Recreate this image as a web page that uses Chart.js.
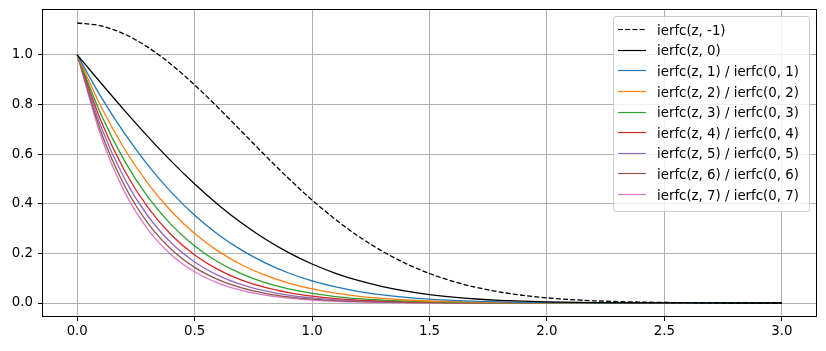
<!DOCTYPE html>
<html>
<head>
<meta charset="utf-8">
<script src="https://cdn.jsdelivr.net/npm/chart.js@4/dist/chart.umd.min.js"></script>
<style>
  body { margin: 0; background: #fff; }
  #wrap { position: relative; width: 826px; height: 351px; }
  #legend {
    position: absolute; left: 613px; top: 16px; width: 195px; height: 191px;
    border: 1px solid #cccccc; border-radius: 3px;
    background: rgba(255,255,255,0.8);
    padding-top: 3px; box-sizing: content-box;
    font-family: "DejaVu Sans", sans-serif; font-size: 13.33px; color: #000;
  }
  .row { height: 20.6px; display: flex; align-items: center; white-space: nowrap; }
  .row svg { margin-left: 4px; margin-right: 11px; flex: none; }
</style>
</head>
<body>
<div id="wrap">
  <canvas id="chart" width="826" height="351"></canvas>
  <div id="legend"></div>
</div>
<script>
const zValues = [0, 0.1, 0.2, 0.3, 0.4, 0.5, 0.6, 0.7, 0.8, 0.9, 1.0, 1.1, 1.2, 1.3, 1.4, 1.5, 1.6, 1.7, 1.8, 1.9, 2.0, 2.2, 2.4, 2.6, 2.8, 3.0];

const ierfcM1 = [1.1284, 1.1172, 1.0841, 1.0313, 0.9615, 0.8788, 0.7872, 0.6913, 0.5950, 0.5020, 0.4151, 0.3365, 0.2674, 0.2082, 0.1589, 0.1189, 0.0872, 0.0627, 0.0442, 0.0305, 0.0207, 0.0089, 0.0036, 0.0013, 0.0004, 0.0001];
const ierfc0 = [1, 0.8875, 0.7773, 0.6714, 0.5716, 0.4795, 0.3961, 0.3222, 0.2579, 0.2031, 0.1573, 0.1198, 0.0897, 0.0660, 0.0477, 0.0339, 0.0237, 0.0162, 0.0109, 0.0072, 0.0047, 0.0019, 0.0007, 0.0002, 0.0001, 0];
const ierfc1 = [1, 0.8327, 0.6853, 0.5569, 0.4469, 0.3539, 0.2764, 0.2129, 0.1616, 0.1209, 0.0891, 0.0646, 0.0462, 0.0325, 0.0225, 0.0153, 0.0102, 0.0067, 0.0044, 0.0028, 0.0017, 0.0006, 0.0002, 0.0001, 0, 0];
const ierfc2 = [1, 0.7936, 0.6227, 0.4828, 0.3699, 0.2799, 0.2090, 0.1541, 0.1120, 0.0803, 0.0568, 0.0396, 0.0271, 0.0184, 0.0122, 0.0080, 0.0052, 0.0033, 0.0021, 0.0013, 0.0008, 0.0003, 0.0001, 0, 0, 0];
const ierfc3 = [1, 0.7624, 0.5749, 0.4286, 0.3158, 0.2298, 0.1652, 0.1173, 0.0822, 0.0568, 0.0388, 0.0261, 0.0173, 0.0113, 0.0073, 0.0046, 0.0028, 0.0017, 0.0010, 0.0006, 0.0004, 0.0001, 0, 0, 0, 0];
const ierfc4 = [1, 0.7362, 0.5362, 0.3861, 0.2749, 0.1934, 0.1345, 0.0923, 0.0625, 0.0418, 0.0276, 0.0180, 0.0115, 0.0073, 0.0046, 0.0029, 0.0018, 0.0011, 0.0006, 0.0004, 0.0002, 0.0001, 0, 0, 0, 0];
const ierfc5 = [1, 0.7135, 0.5036, 0.3516, 0.2427, 0.1656, 0.1116, 0.0744, 0.0490, 0.0318, 0.0204, 0.0129, 0.0082, 0.0050, 0.0030, 0.0018, 0.0011, 0.0006, 0.0004, 0.0002, 0.0001, 0, 0, 0, 0, 0];
const ierfc6 = [1, 0.6933, 0.4755, 0.3227, 0.2165, 0.1436, 0.0942, 0.0610, 0.0390, 0.0246, 0.0153, 0.0095, 0.0056, 0.0034, 0.0021, 0.0012, 0.0007, 0.0004, 0.0002, 0.0001, 0.0001, 0, 0, 0, 0, 0];
const ierfc7 = [1, 0.6751, 0.4509, 0.2980, 0.1947, 0.1258, 0.0803, 0.0507, 0.0317, 0.0196, 0.0119, 0.0071, 0.0045, 0.0026, 0.0014, 0.0008, 0.0004, 0.0002, 0.0001, 0, 0, 0, 0, 0, 0, 0];

const xTicks = [0, 0.5, 1.0, 1.5, 2.0, 2.5, 3.0];
const yTicks = [0, 0.2, 0.4, 0.6, 0.8, 1.0];

const series = [
  { label: "ierfc(z, -1)", values: ierfcM1, color: "#000000", dash: [5, 2.2] },
  { label: "ierfc(z, 0)", values: ierfc0, color: "#000000", dash: [] },
  { label: "ierfc(z, 1) / ierfc(0, 1)", values: ierfc1, color: "#1f77b4", dash: [] },
  { label: "ierfc(z, 2) / ierfc(0, 2)", values: ierfc2, color: "#ff7f0e", dash: [] },
  { label: "ierfc(z, 3) / ierfc(0, 3)", values: ierfc3, color: "#2ca02c", dash: [] },
  { label: "ierfc(z, 4) / ierfc(0, 4)", values: ierfc4, color: "#d62728", dash: [] },
  { label: "ierfc(z, 5) / ierfc(0, 5)", values: ierfc5, color: "#9467bd", dash: [] },
  { label: "ierfc(z, 6) / ierfc(0, 6)", values: ierfc6, color: "#8c564b", dash: [] },
  { label: "ierfc(z, 7) / ierfc(0, 7)", values: ierfc7, color: "#e377c2", dash: [] }
];

const font = { family: "DejaVu Sans", size: 13.33 };

// frame around the plot area, like matplotlib spines
const frame = {
  id: "frame",
  afterDraw(chart) {
    const a = chart.chartArea;
    const c = chart.ctx;
    c.save();
    c.strokeStyle = "#000";
    c.lineWidth = 1;
    c.strokeRect(Math.round(a.left) + 0.5, Math.round(a.top) + 0.5,
      Math.round(a.right - a.left) - 1, Math.round(a.bottom - a.top) - 1);
    c.restore();
  }
};

const chart = new Chart(document.getElementById("chart"), {
  type: "line",
  data: {
    datasets: series.map(s => ({
      label: s.label,
      data: zValues.map((z, i) => ({ x: z, y: s.values[i] })),
      borderColor: s.color,
      backgroundColor: s.color,
      borderDash: s.dash,
      borderWidth: 1.3,
      pointRadius: 0,
      cubicInterpolationMode: "monotone",
      fill: false
    }))
  },
  options: {
    responsive: false,
    animation: false,
    layout: { padding: { top: 9, right: 9, left: 0, bottom: 0 } },
    plugins: { legend: { display: false }, tooltip: { enabled: false } },
    scales: {
      x: {
        type: "linear",
        min: -0.15,
        max: 3.15,
        afterBuildTicks: s => { s.ticks = xTicks.map(v => ({ value: v })); },
        afterFit: s => { s.height = 34; s.paddingLeft = 0; s.paddingRight = 0; },
        ticks: { color: "#000", font, padding: 3, maxRotation: 0, callback: v => v.toFixed(1) },
        grid: { color: "#b0b0b0", lineWidth: 1, tickColor: "#000", tickLength: 4 },
        border: { display: false }
      },
      y: {
        min: -0.0564,
        max: 1.1848,
        afterBuildTicks: s => { s.ticks = yTicks.map(v => ({ value: v })); },
        afterFit: s => { s.width = 42; s.paddingTop = 0; s.paddingBottom = 0; },
        ticks: { color: "#000", font, padding: 5, callback: v => v.toFixed(1) },
        grid: { color: "#b0b0b0", lineWidth: 1, tickColor: "#000", tickLength: 4 },
        border: { display: false }
      }
    }
  },
  plugins: [frame]
});

// legend inside the plot, built from the datasets
const legend = document.getElementById("legend");
chart.data.datasets.forEach(ds => {
  const row = document.createElement("div");
  row.className = "row";
  const dash = ds.borderDash.length ? ' stroke-dasharray="' + ds.borderDash.join(" ") + '"' : "";
  row.innerHTML = '<svg width="28" height="4"><line x1="0" y1="1.5" x2="28" y2="1.5" stroke="' +
    ds.borderColor + '" stroke-width="1.2"' + dash + '/></svg>';
  const txt = document.createElement("span");
  txt.textContent = ds.label;
  row.appendChild(txt);
  legend.appendChild(row);
});
</script>
</body>
</html>
